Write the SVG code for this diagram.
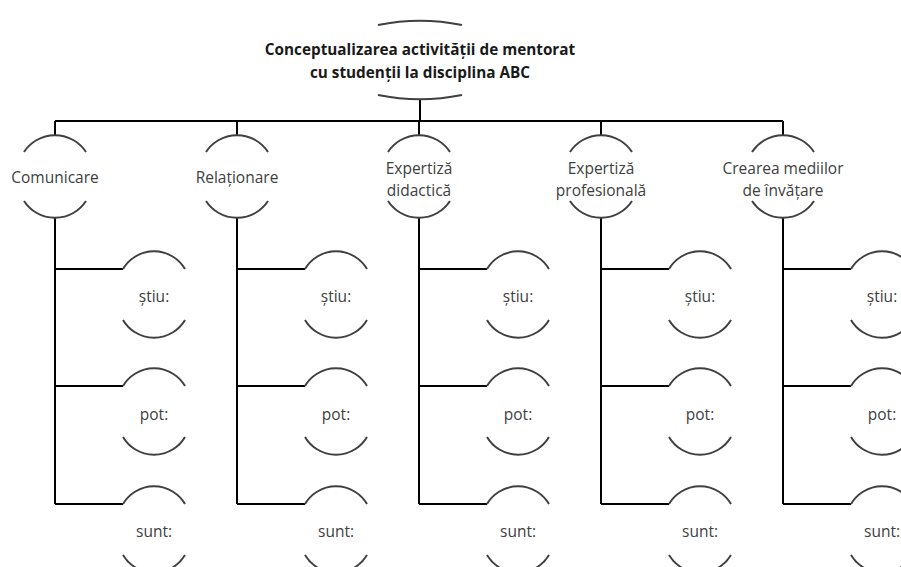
<svg xmlns="http://www.w3.org/2000/svg" width="901" height="567" viewBox="0 0 901 567">
<style>
.arc{fill:none;stroke:#404040;stroke-width:2}
.ln{fill:none;stroke:#000;stroke-width:2}
.t{font-family:"Open Sans","DejaVu Sans",sans-serif;font-size:15.5px;fill:#404040;text-anchor:middle}
.b{font-weight:bold;font-size:15.3px;fill:#1a1a1a}
</style>
<rect width="901" height="567" fill="#fff"/>
<g id="connectors">
<path class="ln" d="M420 99V121M55 121H783"/>
<path class="ln" d="M55 121V135M237 121V135M419 121V135M601 121V135M783 121V135"/>
<path class="ln" d="M55 218V504M55 269H123M55 386H123M55 504H123"/>
<path class="ln" d="M237 218V504M237 269H305M237 386H305M237 504H305"/>
<path class="ln" d="M419 218V504M419 269H487M419 386H487M419 504H487"/>
<path class="ln" d="M601 218V504M601 269H669M601 386H669M601 504H669"/>
<path class="ln" d="M783 218V504M783 269H851M783 386H851M783 504H851"/>
</g>
<g id="root">
<path class="arc" d="M378 25A212 212 0 0 1 462 25M378 95A212 212 0 0 0 462 95"/>
<text class="t b" x="420" y="55">Conceptualizarea activității de mentorat</text>
<text class="t b" x="420" y="78">cu studenții la disciplina ABC</text>
</g>
<g id="n1">
<path class="arc" d="M24 152A37 37 0 0 1 86 152M24 201A37 37 0 0 0 86 201"/>
<text class="t" x="55" y="183">Comunicare</text>
</g>
<g id="n2">
<path class="arc" d="M206 152A37 37 0 0 1 268 152M206 201A37 37 0 0 0 268 201"/>
<text class="t" x="237" y="183">Relaționare</text>
</g>
<g id="n3">
<path class="arc" d="M388 152A37 37 0 0 1 450 152M388 201A37 37 0 0 0 450 201"/>
<text class="t" x="419" y="174">Expertiză</text>
<text class="t" x="419" y="196">didactică</text>
</g>
<g id="n4">
<path class="arc" d="M570 152A37 37 0 0 1 632 152M570 201A37 37 0 0 0 632 201"/>
<text class="t" x="601" y="174">Expertiză</text>
<text class="t" x="601" y="196">profesională</text>
</g>
<g id="n5">
<path class="arc" d="M752 152A37 37 0 0 1 814 152M752 201A37 37 0 0 0 814 201"/>
<text class="t" x="783" y="174">Crearea mediilor</text>
<text class="t" x="783" y="196">de învățare</text>
</g>
<g id="c1">
<g id="c1a"><path class="arc" d="M123 269A36 36 0 0 1 185 269M123 320A36 36 0 0 0 185 320"/><text class="t" x="154" y="302">știu:</text></g>
<g id="c1b"><path class="arc" d="M123 386A36 36 0 0 1 185 386M123 437A36 36 0 0 0 185 437"/><text class="t" x="154" y="420">pot:</text></g>
<g id="c1c"><path class="arc" d="M123 504A36 36 0 0 1 185 504M123 555A36 36 0 0 0 185 555"/><text class="t" x="154" y="537">sunt:</text></g>
</g>
<g id="c2">
<g id="c2a"><path class="arc" d="M305 269A36 36 0 0 1 367 269M305 320A36 36 0 0 0 367 320"/><text class="t" x="336" y="302">știu:</text></g>
<g id="c2b"><path class="arc" d="M305 386A36 36 0 0 1 367 386M305 437A36 36 0 0 0 367 437"/><text class="t" x="336" y="420">pot:</text></g>
<g id="c2c"><path class="arc" d="M305 504A36 36 0 0 1 367 504M305 555A36 36 0 0 0 367 555"/><text class="t" x="336" y="537">sunt:</text></g>
</g>
<g id="c3">
<g id="c3a"><path class="arc" d="M487 269A36 36 0 0 1 549 269M487 320A36 36 0 0 0 549 320"/><text class="t" x="518" y="302">știu:</text></g>
<g id="c3b"><path class="arc" d="M487 386A36 36 0 0 1 549 386M487 437A36 36 0 0 0 549 437"/><text class="t" x="518" y="420">pot:</text></g>
<g id="c3c"><path class="arc" d="M487 504A36 36 0 0 1 549 504M487 555A36 36 0 0 0 549 555"/><text class="t" x="518" y="537">sunt:</text></g>
</g>
<g id="c4">
<g id="c4a"><path class="arc" d="M669 269A36 36 0 0 1 731 269M669 320A36 36 0 0 0 731 320"/><text class="t" x="700" y="302">știu:</text></g>
<g id="c4b"><path class="arc" d="M669 386A36 36 0 0 1 731 386M669 437A36 36 0 0 0 731 437"/><text class="t" x="700" y="420">pot:</text></g>
<g id="c4c"><path class="arc" d="M669 504A36 36 0 0 1 731 504M669 555A36 36 0 0 0 731 555"/><text class="t" x="700" y="537">sunt:</text></g>
</g>
<g id="c5">
<g id="c5a"><path class="arc" d="M851 269A36 36 0 0 1 913 269M851 320A36 36 0 0 0 913 320"/><text class="t" x="882" y="302">știu:</text></g>
<g id="c5b"><path class="arc" d="M851 386A36 36 0 0 1 913 386M851 437A36 36 0 0 0 913 437"/><text class="t" x="882" y="420">pot:</text></g>
<g id="c5c"><path class="arc" d="M851 504A36 36 0 0 1 913 504M851 555A36 36 0 0 0 913 555"/><text class="t" x="882" y="537">sunt:</text></g>
</g>
</svg>
